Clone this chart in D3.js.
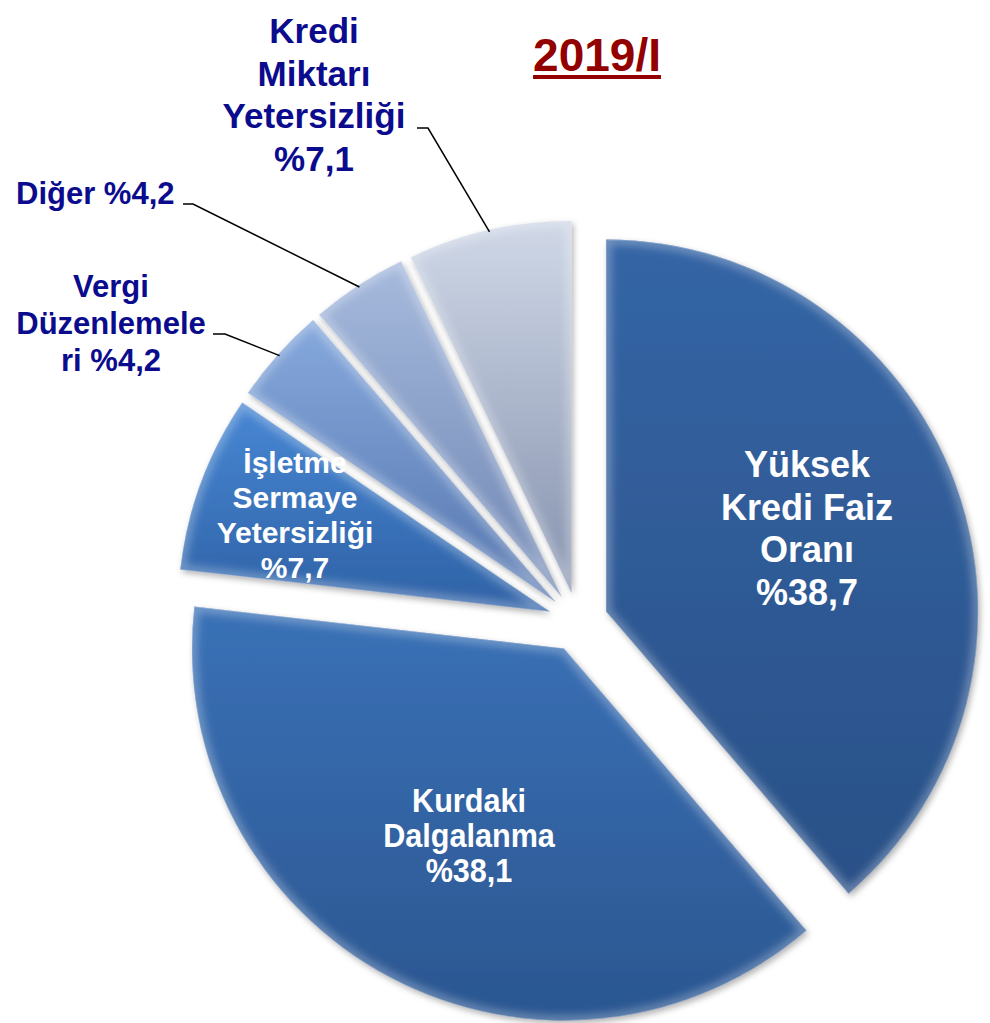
<!DOCTYPE html>
<html>
<head>
<meta charset="utf-8">
<script src="https://cdn.jsdelivr.net/npm/d3@7"></script>
<style>
  html, body { margin: 0; padding: 0; background: #fff; }
  svg { display: block; }
  text { font-family: "Liberation Sans", Arial, sans-serif; font-weight: bold; }
</style>
</head>
<body>
<svg id="chart" width="990" height="1023"></svg>
<script>
// ---- data ----
const title = "2019/I";
const categories = ["Yüksek Kredi Faiz Oranı", "Kurdaki Dalgalanma", "İşletme Sermaye Yetersizliği", "Vergi Düzenlemeleri", "Diğer", "Kredi Miktarı Yetersizliği"];
const values = [38.7, 38.1, 7.7, 4.2, 4.2, 7.1];
const labelLines = [["Yüksek", "Kredi Faiz", "Oranı"], ["Kurdaki", "Dalgalanma"], ["İşletme", "Sermaye", "Yetersizliği"], ["Vergi", "Düzenlemele", "ri"], ["Diğer"], ["Kredi", "Miktarı", "Yetersizliği"]];
const valueInline = [false, false, false, true, true, false];
const topColors = ["#3465a5", "#3a71b7", "#4887d4", "#86a9dd", "#a6badd", "#d0d8e7"];
const bottomColors = ["#2a5087", "#2b5690", "#2e61a5", "#5676ae", "#6f86b2", "#8592ae"];

// ---- layout (not data) ----
const cx = 578, cy = 622, R = 372, explode = 30;
const labelLayout = [
  { x: 807, y: 477, lh: 42.5, size: 36, sx: 1, fill: "#fff", anchor: "middle" },
  { x: 469, y: 812, lh: 35, size: 34, sx: 0.9, fill: "#fff", anchor: "middle" },
  { x: 295, y: 473, lh: 35, size: 30, sx: 1, fill: "#fff", anchor: "middle" },
  { x: 111, y: 297, lh: 37, size: 31, sx: 1, fill: "#0b0b8e", anchor: "middle", leader: [[213, 334], [225, 334]] },
  { x: 16, y: 204, lh: 37, size: 31, sx: 1, fill: "#0b0b8e", anchor: "start", leader: [[183, 204], [193, 204]] },
  { x: 314, y: 43, lh: 42.7, size: 35, sx: 1, fill: "#0b0b8e", anchor: "middle", leader: [[417, 128], [428, 128]] }
];

const fmt = v => "%" + String(v).replace(".", ",");

const svg = d3.select("#chart");
const defs = svg.append("defs");

const shadow = defs.append("filter").attr("id", "shadow")
  .attr("x", "-20%").attr("y", "-20%").attr("width", "140%").attr("height", "140%");
shadow.append("feDropShadow").attr("dx", 2).attr("dy", 3).attr("stdDeviation", 3)
  .attr("flood-color", "#000").attr("flood-opacity", 0.3);

const soft = defs.append("filter").attr("id", "soft")
  .attr("x", "-10%").attr("y", "-10%").attr("width", "120%").attr("height", "120%");
soft.append("feGaussianBlur").attr("stdDeviation", 4);

const pie = d3.pie().sort(null).value(d => d).startAngle(0).endAngle(2 * Math.PI);
const arcs = pie(values);
const arcGen = d3.arc().innerRadius(0).outerRadius(R);

arcs.forEach((a, i) => {
  const g = defs.append("linearGradient").attr("id", "grad" + i)
    .attr("x1", 0).attr("y1", 0).attr("x2", 0).attr("y2", 1);
  g.append("stop").attr("offset", "0%").attr("stop-color", topColors[i]);
  g.append("stop").attr("offset", "100%").attr("stop-color", bottomColors[i]);
  defs.append("clipPath").attr("id", "clip" + i)
    .append("path").attr("d", arcGen(a));
});

const offsets = arcs.map(a => {
  const m = (a.startAngle + a.endAngle) / 2;
  return [Math.sin(m) * explode, -Math.cos(m) * explode];
});

const slices = svg.append("g").selectAll("g.slice").data(arcs).join("g")
  .attr("class", "slice")
  .attr("transform", (d, i) => `translate(${cx + offsets[i][0]},${cy + offsets[i][1]})`);

slices.append("path").attr("d", arcGen)
  .attr("fill", (d, i) => `url(#grad${i})`)
  .attr("filter", "url(#shadow)");
// soft bevel: blurred light inner edge
slices.append("g").attr("clip-path", (d, i) => `url(#clip${i})`)
  .append("path").attr("d", arcGen)
  .attr("fill", "none")
  .attr("stroke", "#ffffff").attr("stroke-opacity", 0.3).attr("stroke-width", 10)
  .attr("stroke-linejoin", "miter")
  .attr("filter", "url(#soft)");
slices.append("path").attr("d", arcGen)
  .attr("fill", "none")
  .attr("stroke", "#ffffff").attr("stroke-opacity", 0.25).attr("stroke-width", 1.2)
  .attr("clip-path", (d, i) => `url(#clip${i})`);

// leader lines
arcs.forEach((a, i) => {
  const L = labelLayout[i];
  if (!L.leader) return;
  const m = (a.startAngle + a.endAngle) / 2;
  const ex = cx + offsets[i][0] + Math.sin(m) * (R - 2);
  const ey = cy + offsets[i][1] - Math.cos(m) * (R - 2);
  const pts = L.leader.concat([[ex, ey]]);
  svg.append("path").attr("d", d3.line()(pts))
    .attr("fill", "none").attr("stroke", "#000").attr("stroke-width", 1.5);
});

// labels
arcs.forEach((a, i) => {
  const L = labelLayout[i];
  const lines = labelLines[i].slice();
  if (valueInline[i]) lines[lines.length - 1] += " " + fmt(values[i]);
  else lines.push(fmt(values[i]));
  const g = svg.append("g").attr("transform", `translate(${L.x},${L.y}) scale(${L.sx},1)`);
  const t = g.append("text").attr("text-anchor", L.anchor)
    .attr("font-size", L.size).attr("fill", L.fill);
  lines.forEach((ln, k) => {
    t.append("tspan").attr("x", 0).attr("y", k * L.lh).text(ln);
  });
});

// title
const tt = svg.append("text").attr("x", 597).attr("y", 71).attr("text-anchor", "middle")
  .attr("font-size", 46).attr("fill", "#920000").text(title);
const bb = tt.node().getBBox();
svg.append("rect").attr("x", bb.x).attr("y", 75).attr("width", bb.width).attr("height", 4).attr("fill", "#920000");
</script>
</body>
</html>
